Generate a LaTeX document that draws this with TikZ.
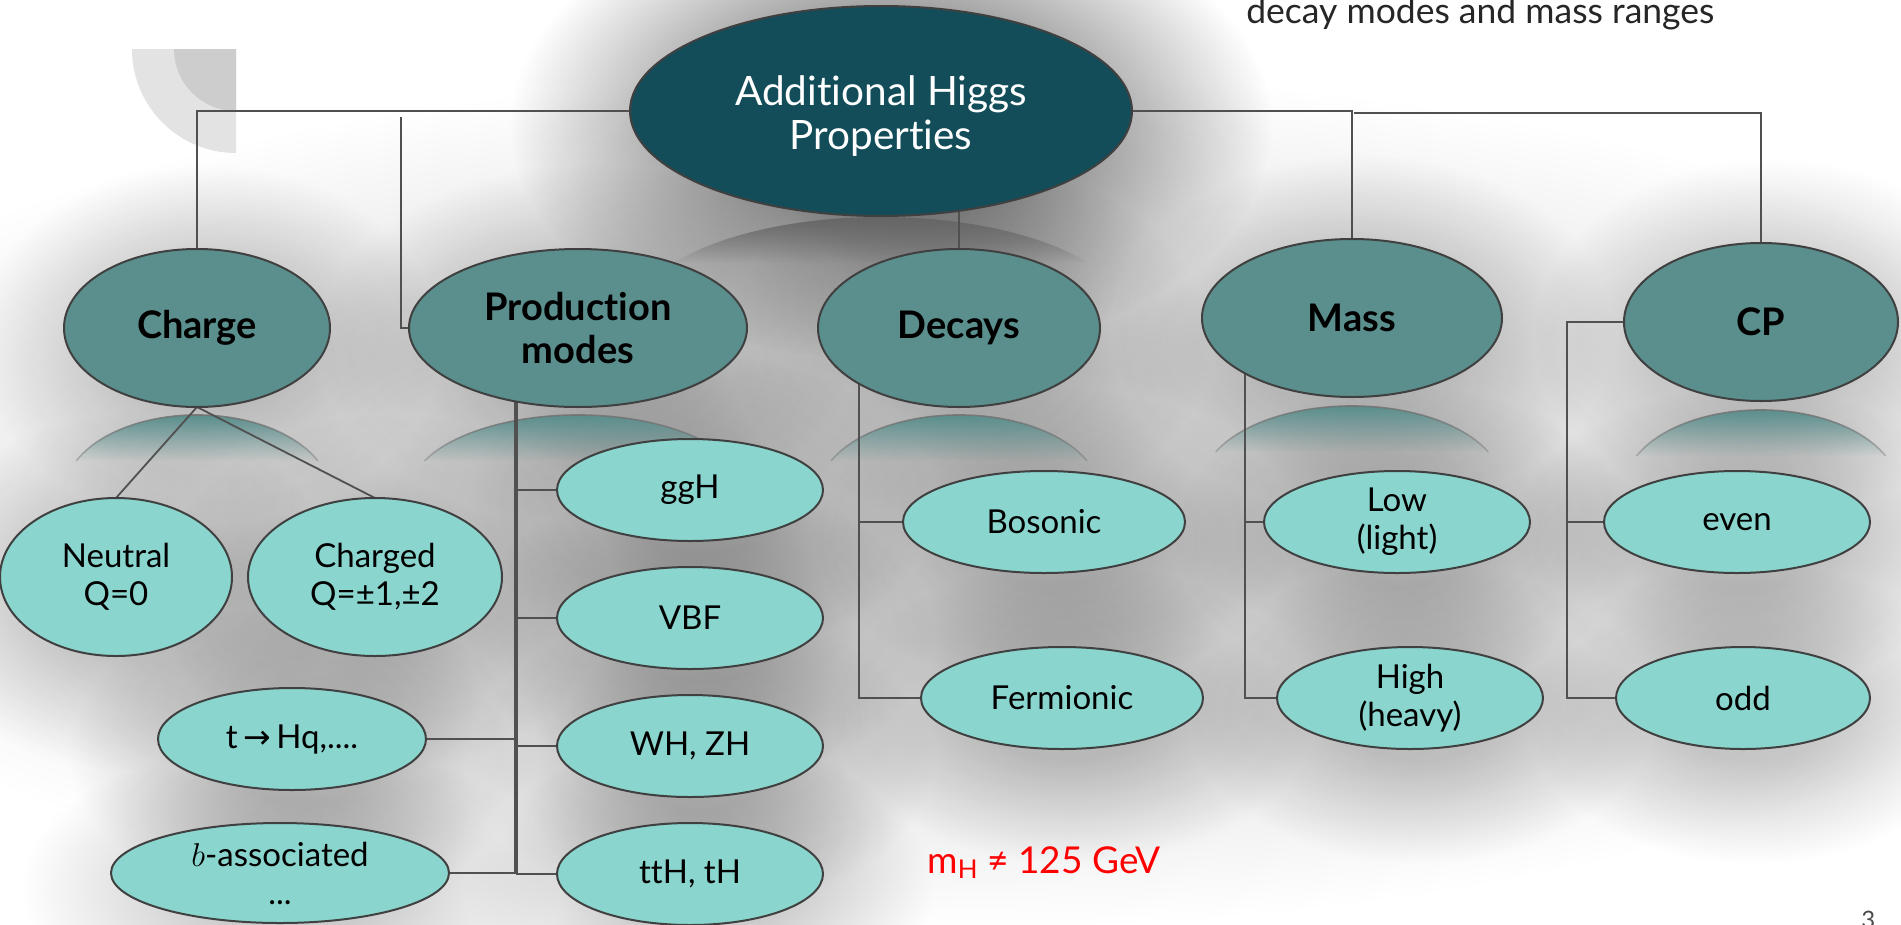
\RequirePackage{fix-cm}
\documentclass[tikz,border=0pt]{standalone}
\usepackage{fontspec}
\setmainfont{Lato}[Ligatures=NoCommon]
\newfontfamily\symfont{DejaVu Sans}
\usetikzlibrary{shapes.geometric,fadings,calc}
\pgfdeclarelayer{bg}
\pgfdeclarelayer{conn}
\pgfsetlayers{bg,conn,main}
\definecolor{topfill}{HTML}{134D59}
\definecolor{midfill}{HTML}{5A8F8D}
\definecolor{leaffill}{HTML}{8AD5CE}
\definecolor{edgecol}{HTML}{404040}
\definecolor{wirecol}{HTML}{505050}
\definecolor{decolight}{HTML}{E3E3E3}
\definecolor{decodark}{HTML}{CDCDCD}
\tikzfading[name=fadedown, top color=transparent!0, bottom color=transparent!100]
% soft-edged elliptic fading used for the drop shadows
\pgfdeclareradialshading{softshade}{\pgfpointorigin}{color(0bp)=(pgftransparent!0); color(8bp)=(pgftransparent!0); color(25bp)=(pgftransparent!100); color(50bp)=(pgftransparent!100)}
\pgfdeclarefading{softfade}{\pgfuseshading{softshade}}

% soft drop shadow: centre x, centre y, rx, ry, spread, opacity
\newcommand\softblob[6]{%
  \fill[black, opacity=#6, path fading=softfade]
    (#1+10,#2+15) ellipse ({(#3+#5)*1pt} and {(#4+#5)*1pt});}

% mirrored, fading cap below a node: centre x, top y, rx, ry, colour
\newcommand\reflfill[5]{%
  \begin{scope}
    \clip (#1,#2+#4) ellipse ({#3*1pt} and {#4*1pt});
    \fill[#5, path fading=fadedown] (#1-#3,#2) rectangle (#1+#3,#2+46);
  \end{scope}}
% same, with a darker rim along its top
\newcommand\reflcap[5]{%
  \reflfill{#1}{#2}{#3}{#4}{#5}
  \draw[black!55, line width=1.6pt, path fading=fadedown]
    (#1,#2+#4) ++(155.3:{#3*1pt} and {#4*1pt})
    arc[start angle=155.3, end angle=24.7, x radius=#3*1pt, y radius=#4*1pt];}

\begin{document}
\begin{tikzpicture}[x=1pt, y=-1pt,
  every node/.style={outer sep=0pt},
  topnode/.style={ellipse, draw=edgecol, line width=2pt, fill=topfill, text=white,
    font=\fontsize{40.5}{44}\selectfont, align=center, inner sep=0pt},
  midnode/.style={ellipse, draw=edgecol, line width=2pt, fill=midfill, text=black,
    font=\fontsize{38}{43}\selectfont\bfseries, align=center, inner sep=0pt,
    minimum height=158pt},
  leaf/.style={ellipse, draw=edgecol, line width=2pt, fill=leaffill, text=black,
    font=\fontsize{33}{38}\selectfont, align=center, inner sep=0pt,
    minimum height=102pt},
  wire/.style={draw=wirecol, line width=1.8pt},
  trunk/.style={draw=wirecol, line width=3.2pt},
]
\useasboundingbox (0,0) rectangle (1901,924);

% ---------- nodes ----------
\node[topnode, minimum width=502pt, minimum height=210pt] (top) at (881,111) {\rule{0pt}{40pt}Additional Higgs\\Properties};

\node[midnode, minimum width=266pt] (chg)  at (197,328)  {Charge};
\node[midnode, minimum width=338pt] (prod) at (578,328)  {Production\\modes};
\node[midnode, minimum width=282pt] (dec)  at (959,328)  {Decays};
\node[midnode, minimum width=300pt] (mass) at (1352,318) {Mass};
\node[midnode, minimum width=274pt] (cp)   at (1761,322) {CP};

\node[leaf, minimum width=232pt, minimum height=158pt] (neutral) at (116,577) {Neutral\\Q=0};
\node[leaf, minimum width=254pt, minimum height=158pt] (charged) at (375,577) {Charged\\Q=±1,±2};

\node[leaf, minimum width=266pt] (ggh)  at (690,490) {ggH};
\node[leaf, minimum width=266pt] (vbf)  at (690,618) {VBF};
\node[leaf, minimum width=266pt] (whzh) at (690,746) {WH, ZH};
\node[leaf, minimum width=266pt] (tth)  at (690,874) {ttH, tH};
\node[leaf, minimum width=268pt] (thq)  at (292,739) {t\,{\symfont →}\,Hq,....};
\node[leaf, minimum width=338pt, minimum height=100pt] (bassoc) at (280,873) {$b$-associated\\...};

\node[leaf, minimum width=282pt] (bos)  at (1044,522) {Bosonic};
\node[leaf, minimum width=282pt] (ferm) at (1062,698) {Fermionic};
\node[leaf, minimum width=266pt] (low)  at (1397,522) {Low\\(light)};
\node[leaf, minimum width=266pt] (high) at (1410,698) {High\\(heavy)};
\node[leaf, minimum width=266pt] (even) at (1737,522) {even};
\node[leaf, minimum width=254pt] (odd)  at (1743,698) {odd};

% ---------- free texts ----------
\node[anchor=base west, text=black!85, font=\fontsize{35.5}{40}\selectfont] (note) at (1243,23) {decay modes and mass ranges};
\node[anchor=base west, text=red, font=\fontsize{37}{42}\selectfont] (mh) at (924,873) {m\textsubscript{H} ≠ 125 GeV};
\node[anchor=base west, text=black!70, font=\fontsize{24}{28}\selectfont] (pagenum) at (1858,928) {3};

% ---------- connector turning points ----------
\coordinate (prodturn) at (401,117);
\coordinate (cpturn)   at (1354,113);
\coordinate (ptrunk)   at (516,874);
\coordinate (dtrunk)   at (859,698);
\coordinate (mtrunk)   at (1245,698);
\coordinate (ctrunk)   at (1567,698);

% ---------- connectors ----------
\begin{pgfonlayer}{conn}
  \draw[wire] (top.west) -| (chg.north);
  \draw[wire] (prodturn) |- (prod.west);
  \draw[wire] (top.east) -| (mass.north);
  \draw[wire] (cpturn) -| (cp.north);
  \draw[wire] (dec.north) -- (dec.north |- top.center);
  \draw[wire] (chg.south) -- (neutral.north);
  \draw[wire] (chg.south) -- (charged.north);
  \draw[trunk] (prod.center -| ptrunk) -- (ptrunk);
  \foreach \n in {ggh,vbf,whzh,tth} \draw[wire] (\n.west -| ptrunk) -- (\n.west);
  \draw[wire] (thq.east) -- (thq.east -| ptrunk);
  \draw[wire] (bassoc.east) -- (bassoc.east -| ptrunk);
  \draw[wire] (dec.center -| dtrunk) |- (ferm.west);
  \draw[wire] (bos.west -| dtrunk) -- (bos.west);
  \draw[wire] (mass.center -| mtrunk) |- (high.west);
  \draw[wire] (low.west -| mtrunk) -- (low.west);
  \draw[wire] (cp.west) -| (ctrunk) -- (odd.west);
  \draw[wire] (even.west -| ctrunk) -- (even.west);
\end{pgfonlayer}

% ---------- backdrop: shadows, reflections, corner ornament ----------
\begin{pgfonlayer}{bg}
  \fill[white] (0,0) rectangle (1901,924);
  % broad grey wash behind the whole chart
  \fill[black, opacity=0.16, path fading=softfade] (930,500) ellipse (1250pt and 430pt);
  \softblob{881}{111}{251}{105}{130}{0.5}
  \foreach \cx/\cy/\rx/\ry in {197/328/133/79, 578/328/169/79, 959/328/141/79,
      1352/318/150/79, 1761/322/137/79, 116/577/116/79, 375/577/127/79,
      690/490/133/51, 690/618/133/51, 690/746/133/51, 690/874/133/51,
      292/739/134/51, 280/873/169/50, 1044/522/141/51, 1062/698/141/51,
      1397/522/133/51, 1410/698/133/51, 1737/522/133/51, 1743/698/127/51}
    {\softblob{\cx}{\cy}{\rx}{\ry}{100}{0.2}}
  % ornament
  \begin{scope}
    \clip (132,49) rectangle (236,154);
    \fill[decolight] (236,49) circle (104pt);
  \end{scope}
  \begin{scope}
    \clip (174,49) rectangle (236,111);
    \fill[decodark] (236,49) circle (62pt);
  \end{scope}
  % reflections
  \reflfill{881}{217}{251}{105}{black!60}
  \reflcap{197}{415}{133}{79}{midfill}
  \reflcap{578}{415}{169}{79}{midfill}
  \reflcap{959}{415}{141}{79}{midfill}
  \reflcap{1352}{406}{150}{79}{midfill}
  \reflcap{1761}{410}{137}{79}{midfill}
\end{pgfonlayer}
\end{tikzpicture}
\end{document}
